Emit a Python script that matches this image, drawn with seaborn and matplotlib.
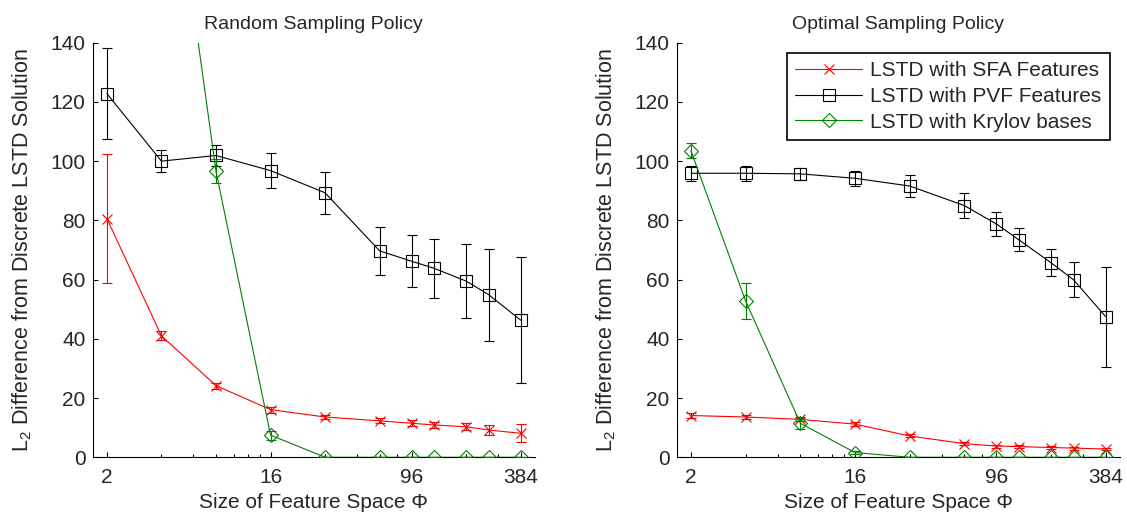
import numpy as np
import matplotlib
matplotlib.use("Agg")
import matplotlib.pyplot as plt
import seaborn as sns

# feature space sizes (x axis, log scale)
sizes = [2, 4, 8, 16, 32, 64, 96, 128, 192, 256, 384]
major_ticks = [2, 16, 96, 384]
minor_ticks = [4, 6, 8, 10, 12, 14, 32, 48, 64, 80, 192, 288]

# random sampling policy
sfa_rand = [80.6, 41.0, 24.2, 16.1, 13.6, 12.3, 11.5, 10.9, 10.3, 9.2, 8.1]
sfa_rand_err = [21.8, 1.5, 1.0, 1.0, 0.8, 0.8, 1.0, 1.0, 1.2, 1.6, 3.1]
pvf_rand = [122.8, 100.0, 101.9, 96.8, 89.3, 69.7, 66.2, 63.8, 59.5, 54.9, 46.3]
pvf_rand_err = [15.5, 3.7, 3.5, 6.0, 7.0, 8.2, 8.7, 9.9, 12.5, 15.5, 21.3]
kry_rand = [400.0, 230.0, 96.6, 7.5, 0, 0, 0, 0, 0, 0, 0]
kry_rand_err = [10.0, 8.0, 4.0, 1.5, 0, 0, 0, 0, 0, 0, 0]

# optimal sampling policy
sfa_opt = [14.1, 13.6, 12.8, 11.2, 7.2, 4.6, 3.8, 3.6, 3.3, 3.1, 2.8]
sfa_opt_err = [0.7, 0.6, 0.6, 0.6, 0.5, 0.5, 0.5, 0.5, 0.5, 0.5, 0.5]
pvf_opt = [95.9, 95.9, 95.7, 94.2, 91.6, 85.0, 78.8, 73.4, 65.7, 59.9, 47.5]
pvf_opt_err = [2.5, 2.5, 2.0, 2.5, 3.6, 4.1, 4.0, 3.9, 4.5, 5.9, 16.9]
kry_opt = [103.5, 52.8, 11.5, 1.6, 0, 0, 0, 0, 0, 0, 0]
kry_opt_err = [2.5, 6.0, 2.0, 0.5, 0, 0, 0, 0, 0, 0, 0]

labels = ["LSTD with SFA Features", "LSTD with PVF Features", "LSTD with Krylov bases"]
colors = ["#ff0000", "#000000", "#008000"]
markers = ["x", "s", "D"]
msizes = [6.5, 8.5, 7.5]

sns.set_theme(style="white")
plt.rcParams["font.family"] = ["Liberation Sans", "DejaVu Sans"]
plt.rcParams["mathtext.fontset"] = "custom"
plt.rcParams["mathtext.rm"] = "Liberation Sans"
plt.rcParams["mathtext.it"] = "Liberation Sans:italic"

fig = plt.figure(figsize=(11.27, 5.17), dpi=100)
ax1 = fig.add_axes([0.0821, 0.1155, 0.3926, 0.802])
ax2 = fig.add_axes([0.6003, 0.1155, 0.3935, 0.802])


def draw_panel(ax, series, title, with_legend):
    for i, (vals, errs) in enumerate(series):
        ax.errorbar(sizes, vals, yerr=errs, fmt="none", ecolor=colors[i],
                    elinewidth=0.8, capsize=3.5, capthick=0.8, zorder=2 + i)
        sns.lineplot(x=sizes, y=vals, ax=ax, color=colors[i], marker=markers[i],
                     ms=msizes[i], mfc="none", mec=colors[i], mew=0.8, lw=0.8,
                     label=labels[i] if with_legend else None, legend=False,
                     zorder=2 + i)
    ax.set_xscale("log")
    ax.set_xlim(2 / 1.2, 384 * 1.2)
    ax.set_ylim(0, 140)
    ax.set_xticks(major_ticks)
    ax.set_xticklabels([str(t) for t in major_ticks])
    ax.set_xticks(minor_ticks, minor=True)
    ax.set_xticklabels([], minor=True)
    ax.set_yticks(range(0, 141, 20))
    ax.tick_params(axis="both", which="major", direction="in", length=3.5,
                   width=0.8, color="black", labelsize=15, bottom=True, left=True)
    ax.tick_params(axis="x", which="major", pad=8)
    ax.tick_params(axis="y", which="major", pad=5)
    ax.tick_params(axis="x", which="minor", direction="in", length=2,
                   width=0.8, color="black", bottom=True)
    for s in ["top", "right"]:
        ax.spines[s].set_visible(False)
    for s in ["left", "bottom"]:
        ax.spines[s].set_color("black")
        ax.spines[s].set_linewidth(0.8)
    ax.set_title(title, fontsize=14, pad=10)
    ax.set_xlabel("Size of Feature Space \u03a6", fontsize=15, labelpad=4)
    ax.set_ylabel("L$_2$ Difference from Discrete LSTD Solution", fontsize=15.5, labelpad=12)
    if with_legend:
        leg = ax.legend(loc="upper right", bbox_to_anchor=(0.977, 0.975),
                        borderaxespad=0, fontsize=15, handlelength=3.2,
                        labelspacing=0.32, fancybox=False, framealpha=1,
                        edgecolor="black", borderpad=0.4, handletextpad=0.4)
        leg.get_frame().set_linewidth(1.2)


draw_panel(ax1, [(sfa_rand, sfa_rand_err), (pvf_rand, pvf_rand_err),
                 (kry_rand, kry_rand_err)], "Random Sampling Policy", False)
draw_panel(ax2, [(sfa_opt, sfa_opt_err), (pvf_opt, pvf_opt_err),
                 (kry_opt, kry_opt_err)], "Optimal Sampling Policy", True)

fig.savefig("out.png", dpi=100)
